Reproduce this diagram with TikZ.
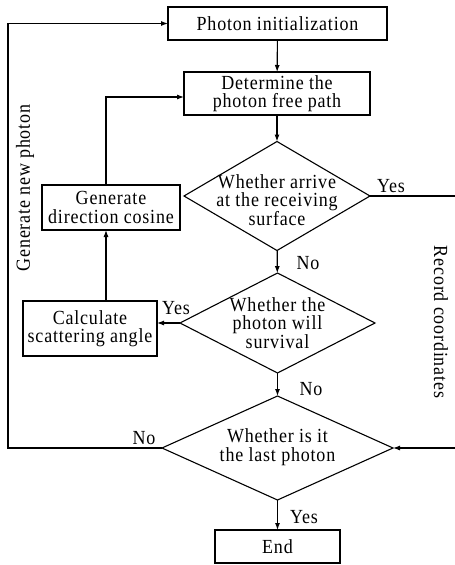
\documentclass[tikz,border=0pt]{standalone}
\usepackage{fontspec}
\setmainfont[LetterSpace=4,FakeStretch=0.9]{Liberation Serif}
\usetikzlibrary{shapes.geometric,arrows.meta}
\tikzset{
  box/.style={draw, line width=1.1pt, inner sep=0pt, outer sep=0pt, align=center, font=\fontsize{20}{18.5}\selectfont},
  dia/.style={draw, diamond, line width=1.1pt, inner sep=0pt, outer sep=0pt},
  txt/.style={align=center, inner sep=0pt, font=\fontsize{20}{18.5}\selectfont},
  lbl/.style={inner sep=0pt, font=\fontsize{20}{18.5}\selectfont},
  arr/.style={line width=1.1pt, -{Latex[length=7pt,width=5pt]}}
}
\begin{document}
\begin{tikzpicture}[x=1pt,y=-1pt]
\clip (0,0) rectangle (455,565);
\fill[white] (0,0) rectangle (455,565);
\node[box, minimum width=219, minimum height=33] (init) at (277.5,23.5) {Photon initialization};
\node[box, minimum width=186, minimum height=43] (det) at (277,93.5) {Determine the\\photon free path};
\node[dia, minimum width=186, minimum height=109] (d1) at (277,196) {};
\node[txt] (t1) at (277,200) {Whether arrive\\at the receiving\\surface};
\node[dia, minimum width=195, minimum height=100] (d2) at (277.5,323) {};
\node[txt] (t2) at (277.5,323) {Whether the\\photon will\\survival};
\node[dia, minimum width=231, minimum height=104] (d3) at (277.5,448) {};
\node[txt] (t3) at (277.5,447) {Whether is it\\the last photon};
\node[box, minimum width=138, minimum height=45] (gen) at (111,207.5) {Generate\\direction cosine};
\node[box, minimum width=134, minimum height=55] (calc) at (90,328.5) {Calculate\\scattering angle};
\node[box, minimum width=125, minimum height=33] (end) at (277.5,546.5) {End};

\draw[arr] (init) -- (det);
\draw[arr] (det) -- (d1);
\draw[arr] (d1) -- (d2);
\draw[arr] (d2) -- (d3);
\draw[arr] (d3) -- (end);
\draw[arr] (d2.west) -- (calc.east |- d2.west);
\draw[arr] ([xshift=16]calc.north) -- ([xshift=-5]gen.south);
\draw[arr] ([xshift=-5]gen.north) |- ([yshift=-3.5]det.west);
\coordinate (lc) at (8,448);
\draw[arr] (d3.west) -- (lc) |- (init.west);
\coordinate (rc1) at (462,196);
\coordinate (rc2) at (462,448);
\draw[arr] (d1.east) -- (rc1) -- (rc2) -- (d3.east);

\node[lbl] (y1) at (391,186) {Yes};
\node[lbl] (n1) at (308,263) {No};
\node[lbl] (y2) at (176,308) {Yes};
\node[lbl] (n2) at (311,389) {No};
\node[lbl] (n3) at (144,438) {No};
\node[lbl] (y3) at (304,517) {Yes};
\node[lbl, rotate=90] (gnp) at (25,188) {Generate new photon};
\node[lbl, rotate=-90] (rec) at (441,322) {Record coordinates};
\end{tikzpicture}
\end{document}
